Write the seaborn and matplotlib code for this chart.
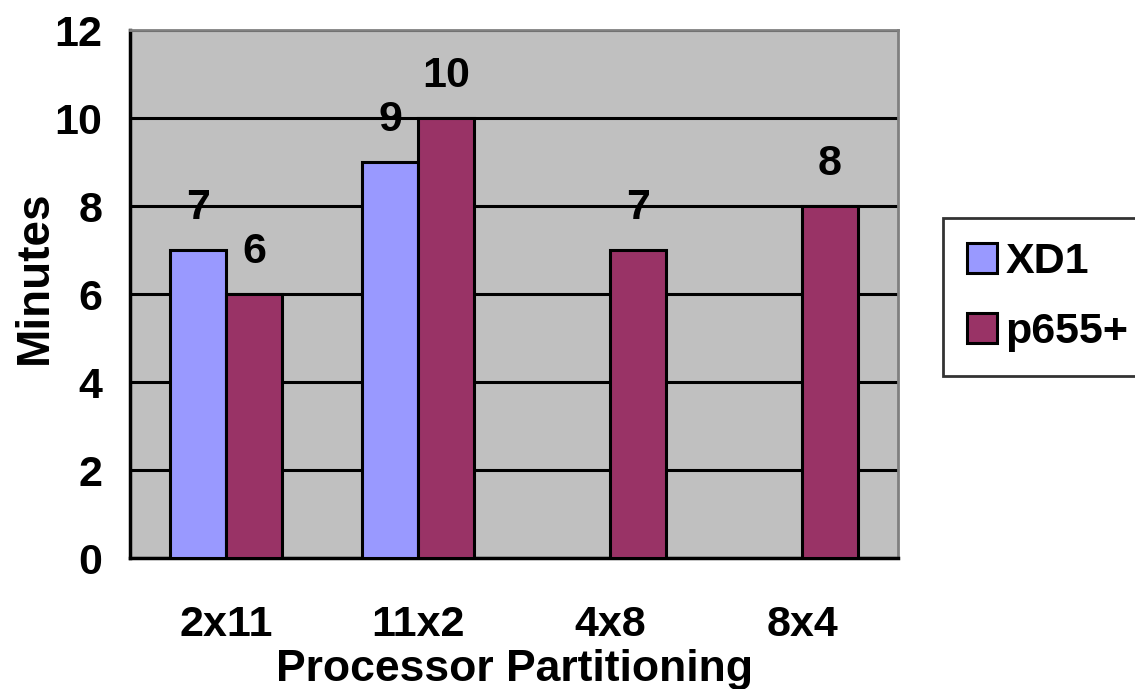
import numpy as np
import pandas as pd
import seaborn as sns
import matplotlib.pyplot as plt

# chart data
partitions = ["2x11", "11x2", "4x8", "8x4"]
xd1_minutes = [7, 9, np.nan, np.nan]
p655_minutes = [6, 10, 7, 8]
series_names = ["XD1", "p655+"]
y_ticks = [0, 2, 4, 6, 8, 10, 12]

colors = {"XD1": "#9999FF", "p655+": "#993366"}

df = pd.DataFrame({
    "Partition": partitions * 2,
    "System": [series_names[0]] * 4 + [series_names[1]] * 4,
    "Minutes": xd1_minutes + p655_minutes,
})

sns.set_style("white")
plt.rcParams["font.family"] = ["Liberation Sans", "DejaVu Sans"]
plt.rcParams["font.weight"] = "bold"
plt.rcParams["text.color"] = "black"
plt.rcParams["axes.labelcolor"] = "black"
plt.rcParams["xtick.color"] = "black"
plt.rcParams["ytick.color"] = "black"

fig = plt.figure(figsize=(11.35, 6.89), dpi=100)
ax = fig.add_axes([130 / 1135, 1 - 558 / 689, 768 / 1135, 528 / 689])

sns.barplot(data=df, x="Partition", y="Minutes", hue="System",
            hue_order=series_names, order=partitions, palette=colors,
            width=0.58, edgecolor="black", linewidth=2.2, saturation=1,
            ax=ax, legend=True, zorder=3)

ax.set_facecolor("#C0C0C0")
ax.set_ylim(0, 12)
ax.set_xlim(-0.5, len(partitions) - 0.5)
ax.set_yticks(y_ticks)
ax.yaxis.grid(True, color="black", linewidth=2.2, zorder=1)
ax.set_axisbelow(True)

# value labels
for cont in ax.containers:
    labels = ["" if np.isnan(b.get_height()) else f"{b.get_height():g}" for b in cont]
    ax.bar_label(cont, labels=labels, padding=16, fontsize=31, fontweight="bold", color="black")

# spines
for side in ["top", "right"]:
    ax.spines[side].set_color("#808080")
    ax.spines[side].set_linewidth(2)
for side in ["left", "bottom"]:
    ax.spines[side].set_color("black")
    ax.spines[side].set_linewidth(2.5)

# x ticks sit between the categories
ax.set_xticks(np.arange(-0.5, len(partitions)), minor=True)
ax.tick_params(axis="x", which="minor", length=12, width=2.5, color="black", direction="out")
ax.tick_params(axis="x", which="major", length=0, pad=34, labelsize=31)
ax.tick_params(axis="y", length=12, width=2.5, color="black", direction="out", labelsize=31, pad=8)
for lbl in ax.get_xticklabels() + ax.get_yticklabels():
    lbl.set_fontweight("bold")

ax.set_xlabel("Processor Partitioning", fontsize=32, fontweight="bold")
ax.set_ylabel("Minutes", fontsize=33, fontweight="bold")
ax.xaxis.set_label_coords(0.5, -0.212)
ax.xaxis.label.set_va("center")
ax.yaxis.set_label_coords(-0.124, 0.532)
ax.yaxis.label.set_va("center")

ax.get_legend().remove()
handles = [plt.Rectangle((0, 0), 1, 1, facecolor=colors[n], edgecolor="black", linewidth=2.2)
           for n in series_names]
leg = fig.legend(handles, series_names, loc="center left",
                 bbox_to_anchor=(943 / 1135, 1 - 297 / 689),
                 prop={"size": 31, "weight": "bold"}, frameon=True, fancybox=False,
                 handlelength=0.7, handleheight=0.7, handletextpad=0.2,
                 labelspacing=0.7, borderpad=0.55, borderaxespad=0)
leg.get_frame().set_edgecolor("black")
leg.get_frame().set_linewidth(2)

fig.savefig("out.png", dpi=100, facecolor="white")
